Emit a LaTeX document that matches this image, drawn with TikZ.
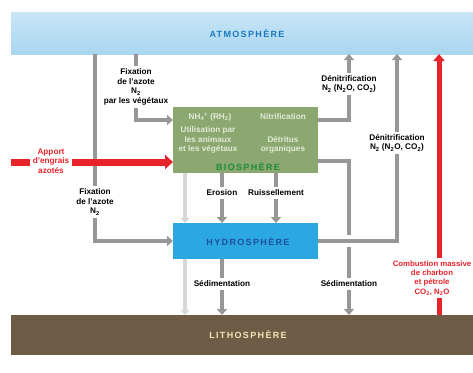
\documentclass[tikz,border=0pt]{standalone}
\usepackage{fontspec}
\setmainfont{Liberation Sans}
\usetikzlibrary{arrows.meta}
\definecolor{grayline}{HTML}{979797}
\definecolor{lightline}{HTML}{D5D8DA}
\definecolor{redline}{HTML}{E8242B}
\definecolor{atmo}{HTML}{A9D6F0}
\definecolor{atmotop}{HTML}{C8E5F6}
\definecolor{litho}{HTML}{6F5C46}
\definecolor{lithotext}{HTML}{F3E6B5}
\definecolor{bio}{HTML}{8BA870}
\definecolor{biotext}{HTML}{E2EAD6}
\definecolor{biotitle}{HTML}{1E8C3A}
\definecolor{hydro}{HTML}{2BA8E2}
\definecolor{hydrotext}{HTML}{1E4F9C}
\definecolor{atmotext}{HTML}{1A78C2}
\begin{document}
\begin{tikzpicture}[x=1pt,y=-1pt,
  lbl/.style={font=\fontsize{8.2}{9.6}\selectfont\bfseries, align=center, inner sep=2.5pt},
  inlbl/.style={lbl, text=biotext},
  redlbl/.style={lbl, text=redline},
  ttl/.style={font=\fontsize{9}{10}\selectfont\bfseries\addfontfeature{LetterSpace=15}, inner sep=0pt},
  band/.style={minimum width=462pt, inner sep=0pt, outer sep=0pt},
  sphere/.style={minimum width=145pt, inner sep=0pt, outer sep=0pt},
  flowline/.style={draw=grayline, line width=4.5pt},
  flow/.style={flowline, -{Triangle[width=10pt,length=6pt]}},
  lightflow/.style={draw=lightline, line width=4pt, -{Triangle[width=9pt,length=5pt]}},
  redflowline/.style={draw=redline, line width=5pt},
  redflow/.style={redflowline, -{Triangle[width=11pt,length=7pt]}},
  bigred/.style={draw=redline, line width=7pt},
  bigredflow/.style={bigred, -{Triangle[width=14pt,length=8pt]}}
]
\useasboundingbox (0,0) rectangle (473,372);
\fill[white] (0,0) rectangle (473,372);

% bands and spheres
\node[band, top color=atmotop, bottom color=atmo, minimum height=42pt] (atm) at (242,33) {};
\node[ttl, text=atmotext] (atmT) at (247,34) {ATMOSPHÈRE};
\node[band, fill=litho, minimum height=40pt] (lith) at (242,335) {};
\node[ttl, text=lithotext] (lithT) at (248,335) {LITHOSPHÈRE};
\node[sphere, fill=bio, minimum height=66pt] (bio) at (245.5,140) {};
\node[ttl, text=biotitle] (bioT) at (248,167) {BIOSPHÈRE};
\node[sphere, fill=hydro, minimum height=36pt] (hydro) at (245.5,241) {};
\node[ttl, text=hydrotext] (hydroT) at (248,242) {HYDROSPHÈRE};

% texts inside biosphere
\node[inlbl] (nh) at (210,117) {NH\textsubscript{4}\textsuperscript{+} (RH\textsubscript{2})};
\node[inlbl] (nit) at (283,117) {Nitrification};
\node[inlbl] (util) at (208,140) {Utilisation par\\les animaux\\et les végétaux};
\node[inlbl] (detr) at (283,145) {Détritus\\organiques};

% labels
\node[lbl] (fix1) at (136,87) {Fixation\\de l'azote\\N\textsubscript{2}\\par les végétaux};
\node[lbl] (fix2) at (95,202) {Fixation\\de l'azote\\N\textsubscript{2}};
\node[redlbl] (apport) at (51,161) {Apport\\d'engrais\\azotés};
\node[lbl] (ero) at (222,193) {Erosion};
\node[lbl] (ruis) at (276,193) {Ruissellement};
\node[lbl] (sed1) at (222,284) {Sédimentation};
\node[lbl] (sed2) at (349,284) {Sédimentation};
\node[lbl] (den1) at (349,84) {Dénitrification\\N\textsubscript{2} (N\textsubscript{2}O, CO\textsubscript{2})};
\node[lbl] (den2) at (397,143) {Dénitrification\\N\textsubscript{2} (N\textsubscript{2}O, CO\textsubscript{2})};
\node[redlbl, font=\fontsize{7.8}{9.4}\selectfont\bfseries] (comb) at (432,278) {Combustion massive\\de charbon\\et pétrole\\CO\textsubscript{2}, N\textsubscript{2}O};
\coordinate (leftedge) at (11,162);

% left fixation (atmosphere -> hydrosphere)
\draw[flowline] (atm.south -| fix2) -- (fix2.north);
\draw[flow] (fix2.south) |- (hydro.west);

% fixation by plants (atmosphere -> biosphere)
\draw[flowline] (atm.south -| fix1) -- (fix1.north);
\draw[flow] (fix1.south) |- (bio.west |- 0,120);

% fertiliser input
\draw[bigred] (leftedge) -- (apport.west |- leftedge);
\draw[bigredflow] (apport.east |- leftedge) -- (bio.west |- leftedge);

% light grey flows
\draw[lightflow] (bio.south -| 185,0) -- (hydro.north -| 185,0);
\draw[lightflow] (hydro.south -| 185,0) -- (lith.north -| 185,0);

% erosion / runoff
\draw[flowline] (bio.south -| ero) -- (ero.north);
\draw[flow] (ero.south) -- (hydro.north -| ero);
\draw[flowline] (bio.south -| ruis) -- (ruis.north);
\draw[flow] (ruis.south) -- (hydro.north -| ruis);

% sedimentation from hydrosphere
\draw[flowline] (hydro.south -| sed1) -- (sed1.north);
\draw[flow] (sed1.south) -- (lith.north -| sed1);

% denitrification from biosphere
\draw[flowline] (bio.east |- 0,120) -| (den1.south);
\draw[flow] (den1.north) -- (atm.south -| den1);

% biosphere -> lithosphere
\draw[flowline] (bio.east |- 0,161) -| (sed2.north);
\draw[flow] (sed2.south) -- (lith.north -| sed2);

% hydrosphere -> atmosphere (crosses over)
\draw[flowline, preaction={draw=white, line width=12pt}] (hydro.east) -- (hydro.east -| den2);
\draw[flowline] (hydro.east) -| (den2.south);
\draw[flow] (den2.north) -- (atm.south -| den2);

% combustion
\draw[redflowline] (lith.north -| 439,0) -- (comb.south -| 439,0);
\draw[redflow] (comb.north -| 439,0) -- (atm.south -| 439,0);
\end{tikzpicture}
\end{document}
